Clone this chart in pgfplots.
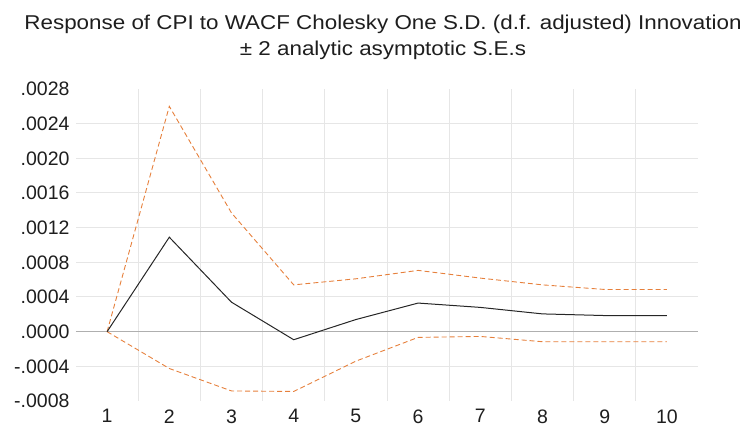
\documentclass[border=0pt]{standalone}
\usepackage{pgfplots}
\pgfplotsset{compat=1.18}
\usepackage{fontspec}
\setmainfont{Liberation Sans}
\newfontfamily\titlefont[FakeStretch=1.12]{Liberation Sans}
\definecolor{bandorange}{RGB}{230,128,60}
\definecolor{gridgray}{RGB}{230,230,230}
\definecolor{zerogray}{RGB}{175,175,175}
\definecolor{txt}{RGB}{30,30,30}
\begin{document}
\begin{tikzpicture}
\useasboundingbox (-76pt,-30pt) rectangle (677pt,401pt);
\begin{axis}[
  at={(0pt,0pt)}, anchor=south west,
  scale only axis, width=622pt, height=312pt,
  xmin=0.5, xmax=10.5, ymin=-0.0008, ymax=0.0028,
  axis line style={draw=none},
  major tick length=0pt, minor tick length=0pt,
  tick style={draw=none},
  xtick={1,...,10},
  xticklabels={1,2,3,4,5,6,7,8,9,10},
  minor xtick={1.5,2.5,3.5,4.5,5.5,6.5,7.5,8.5,9.5},
  xminorgrids,
  ytick={-0.0004,0,0.0004,0.0008,0.0012,0.0016,0.0020,0.0024},
  yticklabels={-.0004,.0000,.0004,.0008,.0012,.0016,.0020,.0024},
  extra y ticks={-0.0008,0.0028},
  extra y tick labels={-.0008,.0028},
  extra y tick style={grid=none},
  ymajorgrids,
  grid style={gridgray, line width=1pt},
  minor grid style={gridgray, line width=1pt},
  scaled y ticks=false,
  ticklabel style={font=\fontsize{19.5}{22}\selectfont, text=txt},
  xticklabel style={yshift=-5pt},
  yticklabel style={xshift=-3pt},
  clip=false,
]
\addplot[zerogray, line width=0.9pt] coordinates {(0.5,0) (10.5,0)};
\addplot[bandorange, line width=0.9pt, dash pattern=on 5pt off 3pt] coordinates {
(1,0) (2,0.00260) (3,0.00137) (4,0.00054) (5,0.00061) (6,0.000707) (7,0.000618) (8,0.00054) (9,0.000487) (10,0.000487)};
\addplot[bandorange, line width=0.9pt, dash pattern=on 5pt off 3pt] coordinates {
(1,0) (2,-0.000425) (3,-0.000684) (4,-0.00069) (5,-0.00034) (6,-0.000066) (7,-0.000055) (8,-0.000116) (9,-0.000116) (10,-0.000116)};
\addplot[black!85, line width=1pt] coordinates {
(1,0) (2,0.00109) (3,0.00034) (4,-0.000093) (5,0.00014) (6,0.00033) (7,0.00028) (8,0.000205) (9,0.000186) (10,0.000186)};
\node[anchor=base, font=\titlefont\fontsize{20}{22}\selectfont, text=txt] at ([yshift=60pt]rel axis cs:0.4936,1) {Response of CPI to WACF Cholesky One S.D. (d.f. adjusted) Innovation};
\node[anchor=base, font=\titlefont\fontsize{20}{22}\selectfont, text=txt] at ([yshift=34pt]rel axis cs:0.4936,1) {± 2 analytic asymptotic S.E.s};
\end{axis}
\end{tikzpicture}
\end{document}
